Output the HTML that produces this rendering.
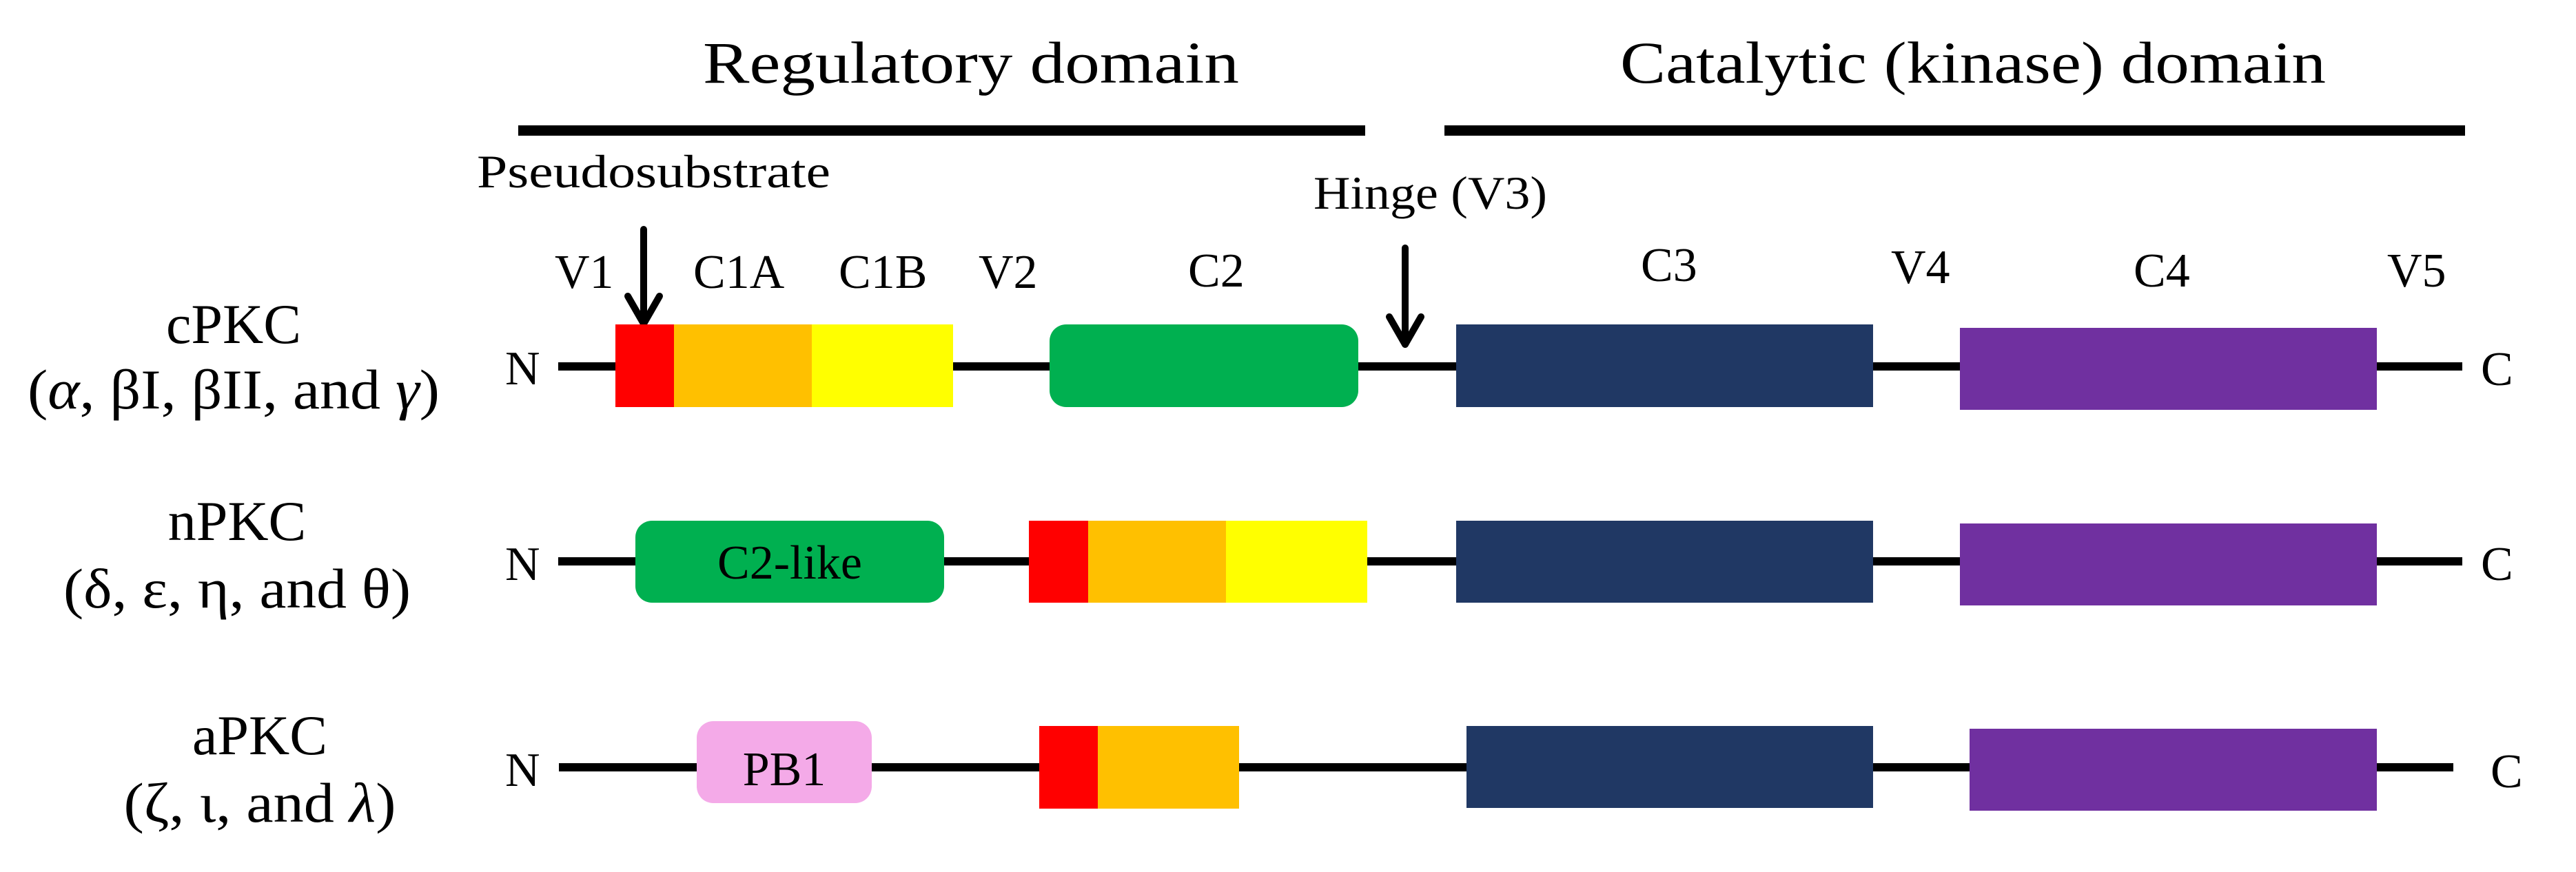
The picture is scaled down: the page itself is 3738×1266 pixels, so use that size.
<!DOCTYPE html>
<html><head><meta charset="utf-8"><style>
html,body{margin:0;padding:0;background:#fff;}
svg{display:block;}
text{font-family:"Liberation Serif","DejaVu Serif",serif;fill:#000;}
</style></head><body>
<svg width="3738" height="1266" viewBox="0 0 3738 1266" xmlns="http://www.w3.org/2000/svg">
<!-- headers -->
<text x="1020" y="120" font-size="86" textLength="778" lengthAdjust="spacingAndGlyphs">Regulatory domain</text>
<text x="2351" y="120" font-size="86" textLength="1024" lengthAdjust="spacingAndGlyphs">Catalytic (kinase) domain</text>
<rect x="752" y="182" width="1229" height="15" fill="#000"/>
<rect x="2096" y="182" width="1481" height="15" fill="#000"/>

<text x="692" y="272" font-size="68" textLength="513" lengthAdjust="spacingAndGlyphs">Pseudosubstrate</text>
<text x="1906" y="303" font-size="68" textLength="339" lengthAdjust="spacingAndGlyphs">Hinge (V3)</text>

<!-- arrows -->
<g stroke="#000" stroke-width="10" stroke-linecap="round" stroke-linejoin="round" fill="none">
<line x1="934" y1="333" x2="934" y2="470"/>
<polyline points="911,430 934,470 957,430"/>
<line x1="2039" y1="360" x2="2039" y2="500"/>
<polyline points="2016,460 2039,500 2062,460"/>
</g>

<!-- region labels -->
<g font-size="70">
<text x="805" y="418">V1</text>
<text x="1006" y="418">C1A</text>
<text x="1217" y="418">C1B</text>
<text x="1420" y="418">V2</text>
<text x="1724" y="416">C2</text>
<text x="2381" y="408">C3</text>
<text x="2744" y="411">V4</text>
<text x="3096" y="416">C4</text>
<text x="3464" y="416">V5</text>
</g>

<!-- left labels -->
<g font-size="82" text-anchor="middle">
<text x="339" y="498">cPKC</text>
<text x="339" y="593" textLength="598" lengthAdjust="spacingAndGlyphs">(<tspan font-style="italic">α</tspan>, βI, βII, and <tspan font-style="italic">γ</tspan>)</text>
<text x="344" y="784">nPKC</text>
<text x="344" y="882" textLength="504" lengthAdjust="spacingAndGlyphs">(δ, ε, η, and θ)</text>
<text x="377" y="1095">aPKC</text>
<text x="377" y="1193" textLength="395" lengthAdjust="spacingAndGlyphs">(ζ, ι, and <tspan font-style="italic">λ</tspan>)</text>
</g>

<!-- backbone lines -->
<rect x="810" y="526" width="2763" height="12" fill="#000"/>
<rect x="810" y="809" width="2763" height="12" fill="#000"/>
<rect x="811" y="1108" width="2749" height="12" fill="#000"/>

<g font-size="70">
<text x="733" y="558">N</text>
<text x="733" y="842">N</text>
<text x="733" y="1141">N</text>
<text x="3600" y="559">C</text>
<text x="3600" y="842">C</text>
<text x="3614" y="1143">C</text>
</g>

<!-- row 1 -->
<rect x="893" y="471" width="85" height="120" fill="#FF0000"/>
<rect x="978" y="471" width="200" height="120" fill="#FFC000"/>
<rect x="1178" y="471" width="205" height="120" fill="#FFFF00"/>
<rect x="1523" y="471" width="448" height="120" rx="24" fill="#00B050"/>
<rect x="2113" y="471" width="605" height="120" fill="#203864"/>
<rect x="2844" y="476" width="605" height="119" fill="#7030A0"/>

<!-- row 2 -->
<rect x="922" y="756" width="448" height="119" rx="24" fill="#00B050"/>
<text x="1146" y="840" font-size="70" text-anchor="middle">C2-like</text>
<rect x="1493" y="756" width="86" height="119" fill="#FF0000"/>
<rect x="1579" y="756" width="200" height="119" fill="#FFC000"/>
<rect x="1779" y="756" width="205" height="119" fill="#FFFF00"/>
<rect x="2113" y="756" width="605" height="119" fill="#203864"/>
<rect x="2844" y="760" width="605" height="119" fill="#7030A0"/>

<!-- row 3 -->
<rect x="1011" y="1047" width="254" height="119" rx="24" fill="#F4AAE8"/>
<text x="1138" y="1140" font-size="70" text-anchor="middle">PB1</text>
<rect x="1508" y="1054" width="85" height="120" fill="#FF0000"/>
<rect x="1593" y="1054" width="205" height="120" fill="#FFC000"/>
<rect x="2128" y="1054" width="590" height="119" fill="#203864"/>
<rect x="2858" y="1058" width="591" height="119" fill="#7030A0"/>
</svg>
</body></html>
